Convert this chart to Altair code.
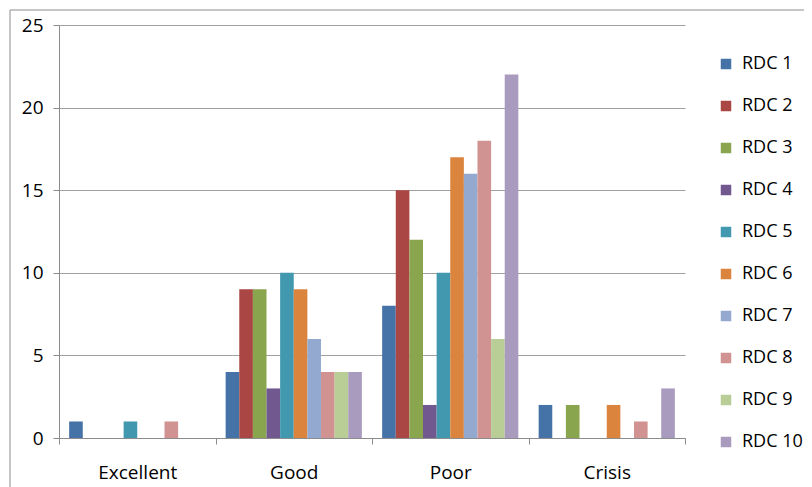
import altair as alt
import pandas as pd

categories = ["Excellent", "Good", "Poor", "Crisis"]
series = ["RDC 1", "RDC 2", "RDC 3", "RDC 4", "RDC 5",
          "RDC 6", "RDC 7", "RDC 8", "RDC 9", "RDC 10"]
rdc1 = [1, 4, 8, 2]
rdc2 = [0, 9, 15, 0]
rdc3 = [0, 9, 12, 2]
rdc4 = [0, 3, 2, 0]
rdc5 = [1, 10, 10, 0]
rdc6 = [0, 9, 17, 2]
rdc7 = [0, 6, 16, 0]
rdc8 = [1, 4, 18, 1]
rdc9 = [0, 4, 6, 0]
rdc10 = [0, 4, 22, 3]
colors = ["#4572A7", "#AA4643", "#89A54E", "#71588F", "#4198AF",
          "#DB843D", "#93A9CF", "#D19392", "#B9CD96", "#A99BBD"]

all_vals = [rdc1, rdc2, rdc3, rdc4, rdc5, rdc6, rdc7, rdc8, rdc9, rdc10]
rows = []
for s, vals in zip(series, all_vals):
    for c, v in zip(categories, vals):
        rows.append({"category": c, "series": s, "value": v})
df = pd.DataFrame(rows)

FONT = "Open Sans"
W, H = 626, 413

bars = alt.Chart(df).mark_bar(strokeWidth=0).encode(
    x=alt.X("category:N", sort=categories, title=None,
            scale=alt.Scale(paddingInner=0, paddingOuter=0),
            axis=alt.Axis(tickBand="extent", labelAngle=0, tickSize=6,
                          labelPadding=19, labelFontSize=19, labelFont=FONT,
                          labelColor="#000000", domainColor="#8c8c8c",
                          tickColor="#8c8c8c", grid=False)),
    xOffset=alt.XOffset("series:N", sort=series,
                        scale=alt.Scale(paddingInner=0, paddingOuter=0.745)),
    y=alt.Y("value:Q", title=None,
            scale=alt.Scale(domain=[0, 25], nice=False),
            axis=alt.Axis(values=[0, 5, 10, 15, 20, 25], tickSize=6,
                          labelPadding=10, labelFontSize=19, labelFont=FONT,
                          labelColor="#000000", domainColor="#8c8c8c",
                          tickColor="#8c8c8c", gridColor="#a0a0a0",
                          grid=True)),
    color=alt.Color("series:N", sort=series,
                    scale=alt.Scale(domain=series, range=colors),
                    legend=alt.Legend(title=None, orient="none",
                                      legendX=658, legendY=30,
                                      symbolType="square", symbolSize=110,
                                      symbolStrokeWidth=0, labelFontSize=18,
                                      labelFont=FONT, labelColor="#000000",
                                      labelOffset=7, rowPadding=24,
                                      padding=0)),
)

border = alt.Chart(pd.DataFrame({"a": [0]})).mark_rect(
    fill=None, stroke="#8c8c8c", strokeWidth=1
).encode(
    x=alt.value(-49), x2=alt.value(W + 300),
    y=alt.value(-15), y2=alt.value(H + 200),
)

chart = alt.layer(border, bars).properties(
    width=W, height=H,
    autosize=alt.AutoSizeParams(type="none"),
    padding={"left": 51, "top": 17, "right": 119, "bottom": 49},
).configure_view(stroke=None)

chart.save("out.html", embed_options={"renderer": "svg", "actions": False})
